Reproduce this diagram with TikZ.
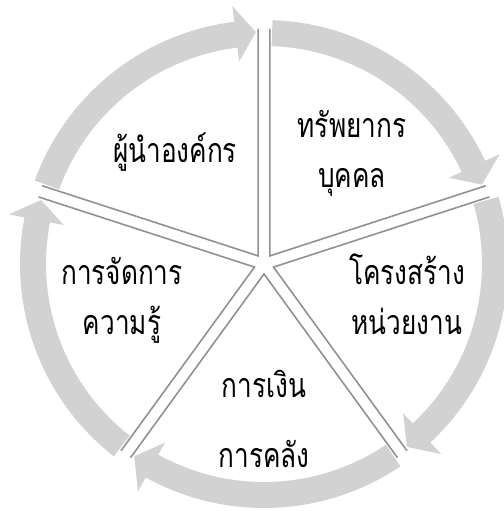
\documentclass[tikz,border=0pt]{standalone}
\usepackage{fontspec}
\newfontfamily\thaifont[Script=Thai,FakeStretch=0.77]{Loma}
\usetikzlibrary{calc}
\definecolor{ringgray}{RGB}{210,210,210}
\definecolor{linegray}{RGB}{145,145,145}
\tikzset{
  ringarrow/.style={fill=ringgray},
  wedgeline/.style={draw=linegray, line width=1.6pt, line join=miter},
  lbl/.style={font=\thaifont\fontsize{34}{40}\selectfont, anchor=base, inner sep=0pt, text=black}
}
\begin{document}
\begin{tikzpicture}[x=1pt,y=1pt]
\useasboundingbox (0,0) rectangle (503,511);
\coordinate (C) at (264,247);
\foreach \b in {90,18,-54,-126,-198}{
  \pgfmathsetmacro\aa{\b-2}
  \pgfmathsetmacro\ab{\b-65}
  \pgfmathsetmacro\at{\b-70}
  \fill[ringarrow] ($(C)+(\aa:244pt)$) arc[start angle=\aa, end angle=\ab, radius=244pt]
    -- ($(C)+(\ab:260pt)$) -- ($(C)+(\at:232pt)$) -- ($(C)+(\ab:204pt)$)
    -- ($(C)+(\ab:218pt)$) arc[start angle=\ab, end angle=\aa, radius=218pt] -- cycle;
}
\foreach \t in {54,-18,-90,-162,126}{
  \coordinate (A) at ($(C)+(\t:10pt)$);
  \draw[wedgeline] ($(A)+(\t+36:227pt)$) -- (A) -- ($(A)+(\t-36:227pt)$);
}
\node[lbl] (l1) at (175,348) {ผู้นำองค์กร};
\node[lbl] (l2a) at (352,373) {ทรัพยากร};
\node[lbl] (l2b) at (352,323) {บุคคล};
\node[lbl] (l3a) at (407,226) {โครงสร้าง};
\node[lbl] (l3b) at (407,176) {หน่วยงาน};
\node[lbl] (l4a) at (264,113) {การเงิน};
\node[lbl] (l4b) at (264,43) {การคลัง};
\node[lbl] (l5a) at (122,226) {การจัดการ};
\node[lbl] (l5b) at (122,176) {ความรู้};
\end{tikzpicture}
\end{document}
